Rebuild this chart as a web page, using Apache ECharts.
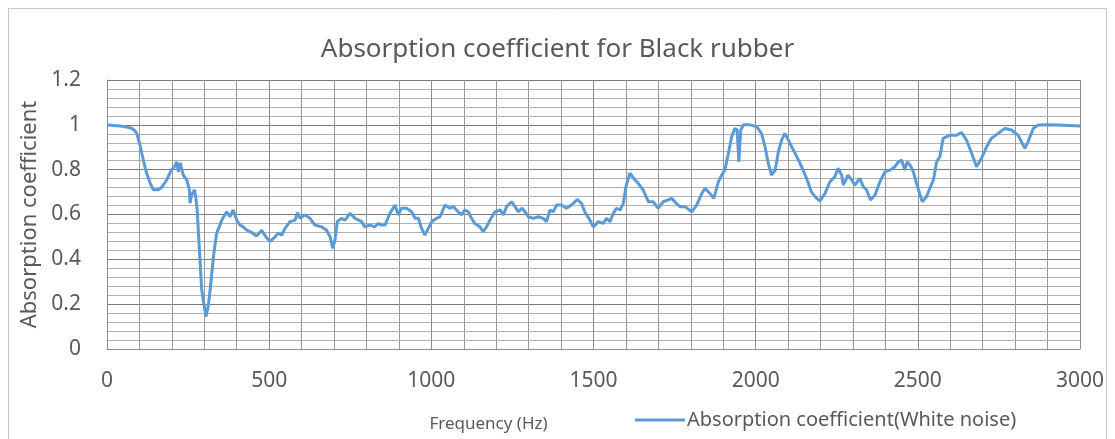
<!DOCTYPE html>
<html>
<head>
<meta charset="utf-8">
<script src="https://cdn.jsdelivr.net/npm/echarts@6/dist/echarts.min.js"></script>
<style>html,body{margin:0;padding:0;background:#fff}#c{width:1115px;height:439px}</style>
</head>
<body>
<div id="c"></div>
<script>
var titleText = 'Absorption coefficient for Black rubber';
var xName = 'Frequency (Hz)';
var yName = 'Absorption coefficient';
var seriesName = 'Absorption coefficient(White noise)';
var xTicks = [0, 500, 1000, 1500, 2000, 2500, 3000];
var yTicks = [0, 0.2, 0.4, 0.6, 0.8, 1, 1.2];

var freq = [0,20,40,60,76,85,91,100,112,122,133,143,158,168,174,184,199,207,215,220,226,230,235,246,254,256,261,266,270,274,278,285,292,302,305,309,312,318,328,338,354,369,379,389,400,410,420,431,446,461,477,490,503,518,528,539,549,564,580,587,595,610,626,641,662,677,688,696,703,710,723,734,749,765,785,795,811,826,836,846,857,865,872,888,898,908,924,939,950,960,970,980,991,1001,1016,1027,1042,1057,1068,1083,1093,1103,1114,1124,1134,1150,1160,1170,1181,1196,1212,1222,1232,1247,1258,1268,1280,1289,1299,1314,1330,1345,1355,1366,1376,1386,1401,1417,1432,1450,1463,1473,1489,1499,1515,1530,1540,1551,1561,1571,1582,1592,1600,1612,1628,1638,1653,1669,1684,1699,1715,1730,1741,1755,1767,1782,1803,1818,1834,1844,1859,1871,1885,1895,1905,1916,1926,1936,1943,1948,1954,1962,1982,2003,2018,2029,2039,2049,2060,2070,2080,2090,2101,2116,2137,2157,2172,2188,2198,2214,2229,2244,2254,2265,2270,2285,2296,2306,2321,2332,2342,2354,2368,2383,2399,2414,2429,2440,2450,2460,2467,2476,2486,2496,2507,2514,2527,2537,2548,2558,2568,2578,2599,2620,2635,2650,2666,2681,2696,2712,2727,2748,2768,2789,2809,2830,2840,2856,2871,2900,2950,3000];
var absorption = [1.0,0.997,0.995,0.99,0.985,0.975,0.965,0.92,0.843,0.785,0.74,0.71,0.71,0.72,0.724,0.754,0.80,0.81,0.835,0.79,0.83,0.806,0.776,0.754,0.71,0.65,0.687,0.70,0.71,0.673,0.62,0.44,0.263,0.174,0.144,0.17,0.19,0.263,0.41,0.516,0.575,0.612,0.59,0.62,0.575,0.553,0.545,0.53,0.52,0.504,0.53,0.50,0.48,0.50,0.517,0.508,0.538,0.568,0.575,0.608,0.583,0.598,0.583,0.553,0.545,0.53,0.50,0.449,0.486,0.568,0.583,0.575,0.605,0.583,0.568,0.545,0.553,0.545,0.56,0.553,0.553,0.58,0.605,0.642,0.598,0.628,0.628,0.612,0.583,0.583,0.538,0.508,0.538,0.568,0.583,0.59,0.642,0.628,0.635,0.612,0.598,0.62,0.612,0.583,0.56,0.545,0.523,0.545,0.575,0.612,0.62,0.598,0.635,0.657,0.635,0.612,0.628,0.612,0.59,0.583,0.59,0.583,0.568,0.62,0.612,0.642,0.642,0.628,0.642,0.667,0.65,0.612,0.575,0.545,0.568,0.56,0.583,0.568,0.605,0.628,0.62,0.65,0.724,0.784,0.754,0.739,0.71,0.657,0.657,0.628,0.657,0.665,0.672,0.65,0.635,0.635,0.612,0.642,0.694,0.717,0.694,0.672,0.746,0.776,0.798,0.873,0.947,0.984,0.977,0.835,0.977,1.0,1.0,0.992,0.962,0.902,0.828,0.776,0.798,0.88,0.932,0.962,0.932,0.888,0.828,0.761,0.70,0.672,0.661,0.694,0.746,0.768,0.806,0.776,0.731,0.776,0.754,0.731,0.761,0.724,0.709,0.665,0.687,0.746,0.791,0.798,0.813,0.835,0.843,0.798,0.835,0.821,0.791,0.739,0.687,0.657,0.68,0.717,0.754,0.835,0.858,0.94,0.954,0.954,0.965,0.932,0.873,0.813,0.85,0.902,0.94,0.962,0.984,0.977,0.954,0.895,0.925,0.984,0.999,1.0,0.998,0.995];

var points = freq.map(function (f, i) { return [f, absorption[i]]; });
var font = '"Noto Sans", "Open Sans", sans-serif';
var txt = '#595959';

var chart = echarts.init(document.getElementById('c'), null, { renderer: 'canvas' });
chart.setOption({
  animation: false,
  backgroundColor: '#ffffff',
  graphic: [{
    type: 'rect', z: -10, silent: true,
    shape: { x: 8.5, y: 8.5, width: 1098, height: 450 },
    style: { fill: 'none', stroke: '#c8c8c8', lineWidth: 1 }
  }],
  title: {
    text: titleText, left: 'center', top: 32,
    textStyle: { fontFamily: font, fontSize: 26, fontWeight: 'normal', color: txt }
  },
  legend: {
    left: 630, top: 405, itemWidth: 50, itemHeight: 3, itemGap: 10,
    icon: 'rect',
    textStyle: { fontFamily: font, fontSize: 20, color: txt, padding: [0, 0, 0, -3] },
    data: [seriesName]
  },
  grid: { left: 107, right: 35, top: 80, bottom: 90, containLabel: false },
  xAxis: {
    type: 'value', min: xTicks[0], max: xTicks[xTicks.length - 1], interval: 500,
    name: xName, nameLocation: 'middle', nameGap: 67,
    nameTextStyle: { fontFamily: font, fontSize: 17, color: txt, padding: [0, 210, 0, 0] },
    axisLine: { show: true, lineStyle: { color: '#8c8c8c' } },
    axisTick: { show: false },
    axisLabel: { fontFamily: font, fontSize: 21, color: txt, margin: 22,
      formatter: function (v) { return String(v); } },
    splitLine: { show: true, lineStyle: { color: '#8c8c8c', width: 1 } },
    minorTick: { show: false, splitNumber: 5 },
    minorSplitLine: { show: true, lineStyle: { color: '#989898', width: 1 } }
  },
  yAxis: {
    type: 'value', min: yTicks[0], max: yTicks[yTicks.length - 1], interval: 0.2,
    name: yName, nameLocation: 'middle', nameGap: 62, nameRotate: 90,
    nameTextStyle: { fontFamily: font, fontSize: 22, color: txt },
    axisLine: { show: true, lineStyle: { color: '#8c8c8c' } },
    axisTick: { show: false },
    axisLabel: { fontFamily: font, fontSize: 21, color: txt, margin: 26,
      formatter: function (v) { return String(v); } },
    splitLine: { show: true, lineStyle: { color: '#7a7a7a', width: 1 } },
    minorTick: { show: false, splitNumber: 5 },
    minorSplitLine: { show: true, lineStyle: { color: '#b0b0b0', width: 1 } }
  },
  series: [{
    name: seriesName, type: 'line', data: points,
    showSymbol: false, symbol: 'none', smooth: false,
    lineStyle: { color: '#5b9bd5', width: 3 },
    itemStyle: { color: '#5b9bd5' }
  }]
});
</script>
</body>
</html>
